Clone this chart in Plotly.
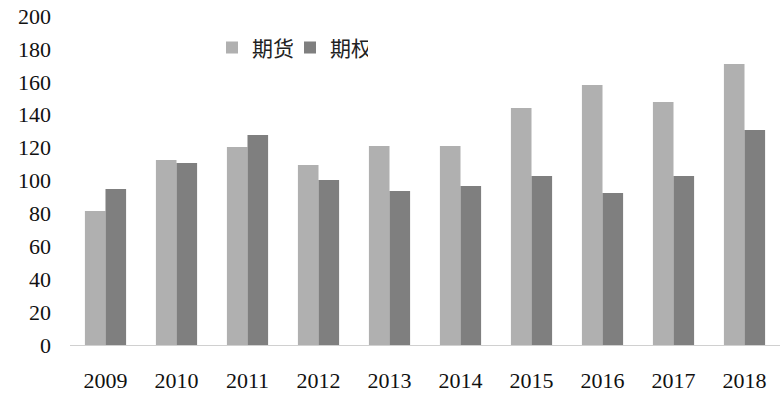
import plotly.graph_objects as go

years = ["2009", "2010", "2011", "2012", "2013", "2014", "2015", "2016", "2017", "2018"]
futures = [81.5, 112.5, 120.4, 109.4, 121, 121, 144, 158, 147.7, 170.8]
options = [94.8, 110.6, 127.7, 100.3, 93.6, 96.7, 102.7, 92.4, 102.7, 130.7]
y_ticks = [0, 20, 40, 60, 80, 100, 120, 140, 160, 180, 200]

fig = go.Figure()
fig.add_trace(go.Bar(name="期货", x=years, y=futures, marker_color="#b0b0b0", marker_line_width=0))
fig.add_trace(go.Bar(name="期权", x=years, y=options, marker_color="#7f7f7f", marker_line_width=0))

fig.update_layout(
    width=782, height=402,
    margin=dict(l=70, r=2, t=16, b=57),
    paper_bgcolor="white", plot_bgcolor="white",
    barmode="group", bargap=0.42, bargroupgap=0,
    font=dict(family="Liberation Serif, Times New Roman, serif", size=22, color="#111111"),
    legend=dict(orientation="h", x=0.2, y=0.903, xanchor="left", yanchor="middle",
                font=dict(family="Noto Sans CJK SC", size=21, color="#222222"),
                itemwidth=30, entrywidth=33, bgcolor="rgba(0,0,0,0)"),
    showlegend=True,
)
fig.update_xaxes(showline=True, linecolor="#d0d0d0", linewidth=1, showgrid=False,
                 ticks="", ticklabelstandoff=16)
fig.update_yaxes(range=[0, 200], tickvals=y_ticks, showgrid=False, zeroline=False,
                 showline=False, ticks="", ticklabelstandoff=18)

fig.write_html("out.html", config={"displayModeBar": False},
               post_script="document.body.style.margin='0';document.body.style.overflow='hidden';")
